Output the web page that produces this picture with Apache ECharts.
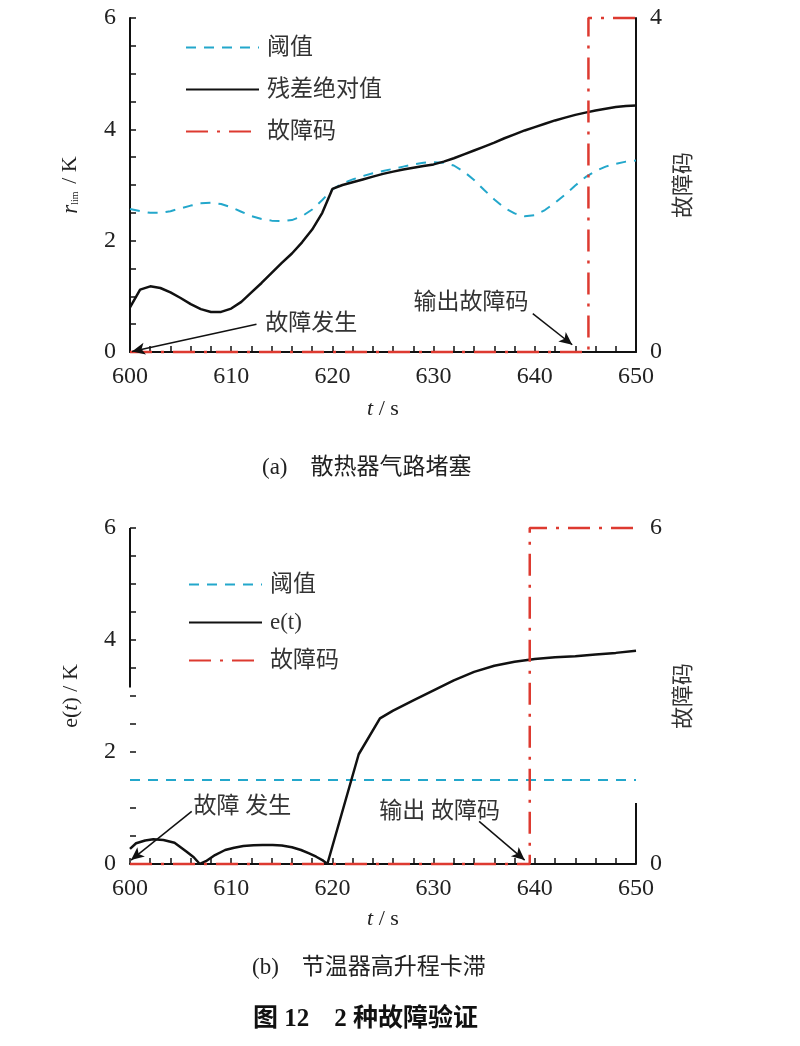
<!DOCTYPE html>
<html>
<head>
<meta charset="utf-8">
<title>图12 2种故障验证</title>
<script src="https://cdn.jsdelivr.net/npm/echarts@6/dist/echarts.min.js"></script>
<style>
html, body { margin: 0; padding: 0; background: #fff; }
#main { width: 800px; height: 1046px; }
</style>
</head>
<body>
<div id="main"></div>
<script>
// (a) 散热器气路堵塞
var timeA = [600,601,602,603,604,605,606,607,608,609,610,611,612,613,614,615,616,617,618,619,620,
             621,622,623,624,625,626,627,628,629,630,631,632,633,634,635,636,637,638,639,640,
             641,642,643,644,645,646,647,648,649,650];
var residualA = [0.80,1.12,1.18,1.15,1.07,0.97,0.86,0.77,0.72,0.72,0.78,0.90,1.07,1.24,1.42,1.60,1.77,1.97,2.20,2.50,2.93,
                 3.00,3.05,3.10,3.15,3.20,3.24,3.28,3.31,3.34,3.37,3.42,3.48,3.55,3.62,3.69,3.76,3.84,3.91,3.98,4.04,
                 4.10,4.16,4.21,4.26,4.30,4.34,4.37,4.40,4.42,4.43];
var thresholdA = [2.57,2.53,2.50,2.50,2.53,2.58,2.63,2.67,2.68,2.66,2.60,2.52,2.44,2.39,2.36,2.35,2.37,2.44,2.56,2.73,2.92,
                  3.03,3.10,3.16,3.21,3.25,3.29,3.33,3.37,3.40,3.41,3.40,3.35,3.24,3.09,2.91,2.74,2.59,2.49,2.44,2.46,
                  2.55,2.68,2.83,2.99,3.14,3.25,3.33,3.38,3.42,3.44];
var faultTimeA = [600, 645.3, 645.3, 650];
var faultA = [0, 0, 4, 4];
var labelsA = [{name: '故障发生', coord: [617.9, 0.5]}, {name: '输出故障码', coord: [633.7, 0.88]}];
var arrowsA = [[[612.5, 0.5], [600.2, 0.01]], [[639.8, 0.69], [643.7, 0.13]]];

// (b) 节温器高升程卡滞
var timeB = [600,600.6,601.5,602.3,603.3,604.4,605.6,606.3,606.9,
             607.5,608.4,609.4,610.3,611.2,612.2,613.1,614.1,615,616,
             616.9,617.7,618.4,619,619.5,
             622.6,624.7,626,628,630,632,634,636,638,640,
             642,644,646,648,650];
var errorB = [0.27,0.37,0.42,0.44,0.43,0.38,0.22,0.12,0,
              0.05,0.16,0.25,0.29,0.32,0.335,0.34,0.34,0.33,0.30,
              0.25,0.19,0.13,0.07,0,
              1.96,2.60,2.74,2.92,3.10,3.28,3.43,3.54,3.61,3.66,
              3.69,3.71,3.74,3.77,3.81];
var thresholdTimeB = [600, 650];
var thresholdB = [1.5, 1.5];
var faultTimeB = [600, 639.5, 639.5, 650];
var faultB = [0, 0, 6, 6];
var labelsB = [{name: '故障 发生', coord: [611.1, 1.02]}, {name: '输出 故障码', coord: [630.6, 0.93]}];
var arrowsB = [[[606.1, 0.94], [600.1, 0.07]], [[634.5, 0.76], [639.0, 0.07]]];
// 原图下图坐标轴线只画了一段
var stubLeftB = [[600, 3.15], [600, 6]];
var stubRightB = [[650, 0], [650, 1.09]];

var xTicks = {min: 600, max: 650, interval: 10};

function zip(xs, ys) {
    return xs.map(function (x, i) { return [x, ys[i]]; });
}

var FONT = "'Liberation Serif', 'Noto Sans CJK SC', serif";
var CYAN = '#23a7cb';
var RED = '#dd3a30';
var BLACK = '#111';
var dashCyan = [10, 8];
var dashRed = [22, 9, 3, 9];

var chart = echarts.init(document.getElementById('main'));

function xAxisOf(grid, gap) {
    return {
        gridIndex: grid, type: 'value', min: xTicks.min, max: xTicks.max, interval: xTicks.interval,
        name: '{i|t} / s', nameLocation: 'middle', nameGap: gap,
        nameTextStyle: {fontFamily: FONT, fontSize: 22, color: '#222', rich: {i: {fontStyle: 'italic', fontSize: 22, fontFamily: FONT}}},
        axisLine: {onZero: false, lineStyle: {color: BLACK, width: 2}},
        axisTick: {inside: true, length: 6, lineStyle: {color: BLACK, width: 1.5}},
        minorTick: {show: true, splitNumber: 5, length: 6, lineStyle: {color: BLACK, width: 1.5}},
        splitLine: {show: false},
        axisLabel: {fontFamily: FONT, fontSize: 24, color: '#222', margin: 13}
    };
}

function leftY(grid, name, rich, showLine) {
    return {
        gridIndex: grid, type: 'value', position: 'left', min: 0, max: 6, interval: 2,
        name: name, nameLocation: 'middle', nameGap: 48,
        nameTextStyle: {fontFamily: FONT, fontSize: 22, color: '#222', rich: rich},
        axisLine: {show: showLine, onZero: false, lineStyle: {color: BLACK, width: 2}},
        axisTick: {inside: true, length: 6, lineStyle: {color: BLACK, width: 1.5}},
        minorTick: {show: true, splitNumber: 4, length: 6, lineStyle: {color: BLACK, width: 1.5}},
        splitLine: {show: false},
        axisLabel: {fontFamily: FONT, fontSize: 24, color: '#222', margin: 14}
    };
}

function rightY(grid, max, showLine) {
    return {
        gridIndex: grid, type: 'value', position: 'right', min: 0, max: max, interval: max,
        name: '故障码', nameLocation: 'middle', nameGap: 24, nameRotate: 90,
        nameTextStyle: {fontFamily: FONT, fontSize: 22, color: '#333'},
        axisLine: {show: showLine, onZero: false, lineStyle: {color: BLACK, width: 2}},
        axisTick: {show: false},
        splitLine: {show: false},
        axisLabel: {fontFamily: FONT, fontSize: 24, color: '#222', margin: 14}
    };
}

function arrowLines(list) {
    return {
        silent: true, symbol: ['none', 'arrow'], symbolSize: [9, 13],
        label: {show: false},
        lineStyle: {color: BLACK, width: 1.5, type: 'solid'},
        data: list.map(function (a) { return [{coord: a[0]}, {coord: a[1]}]; })
    };
}

function textPoints(list) {
    return {
        silent: true, symbol: 'circle', symbolSize: 1,
        itemStyle: {color: 'rgba(0,0,0,0)'},
        label: {show: true, position: 'inside', formatter: '{b}', fontFamily: FONT, fontSize: 23, color: '#333'},
        data: list
    };
}

var legendBase = {
    orient: 'vertical', itemWidth: 73, itemHeight: 14,
    itemStyle: {color: 'rgba(0,0,0,0)', borderWidth: 0, opacity: 0},
    textStyle: {fontFamily: FONT, fontSize: 23, color: '#333', padding: [0, 0, 0, 3]}
};

var option = {
    animation: false,
    backgroundColor: '#fff',
    grid: [
        {left: 130, top: 18, width: 506, height: 334},
        {left: 130, top: 528, width: 506, height: 336}
    ],
    legend: [
        Object.assign({}, legendBase, {left: 180, top: 31, itemGap: 19, data: ['阈值', '残差绝对值', '故障码']}),
        Object.assign({}, legendBase, {left: 183, top: 568, itemGap: 15, data: ['阈值', 'e(t)', '故障码']})
    ],
    xAxis: [xAxisOf(0, 46), xAxisOf(1, 44)],
    yAxis: [
        leftY(0, '{i|r}{s|lim} / K', {i: {fontStyle: 'italic', fontSize: 23, fontFamily: FONT}, s: {fontSize: 10, fontFamily: FONT, padding: [10, 2, 0, 0]}}, true),
        rightY(0, 4, true),
        leftY(1, 'e({i|t}) / K', {i: {fontStyle: 'italic', fontSize: 22, fontFamily: FONT}}, false),
        rightY(1, 6, false)
    ],
    graphic: [
        {type: 'text', left: 262, top: 456, style: {text: '(a)    散热器气路堵塞', font: "23px 'Liberation Serif', 'Noto Sans CJK SC'", fill: '#222'}},
        {type: 'text', left: 252, top: 956, style: {text: '(b)    节温器高升程卡滞', font: "23px 'Liberation Serif', 'Noto Sans CJK SC'", fill: '#222'}},
        {type: 'text', left: 253, top: 1007, style: {text: '图 12    2 种故障验证', font: "bold 25px 'Liberation Serif', 'Noto Sans CJK SC'", fill: '#111'}}
    ],
    series: [
        {
            name: '阈值', type: 'line', xAxisIndex: 0, yAxisIndex: 0, symbol: 'none',
            data: zip(timeA, thresholdA),
            itemStyle: {color: CYAN}, lineStyle: {color: CYAN, width: 2, type: dashCyan}
        },
        {
            name: '残差绝对值', type: 'line', xAxisIndex: 0, yAxisIndex: 0, symbol: 'none',
            data: zip(timeA, residualA),
            itemStyle: {color: BLACK}, lineStyle: {color: BLACK, width: 2.5},
            markLine: arrowLines(arrowsA),
            markPoint: textPoints(labelsA)
        },
        {
            name: '故障码', type: 'line', xAxisIndex: 0, yAxisIndex: 1, symbol: 'none', clip: false,
            data: zip(faultTimeA, faultA),
            itemStyle: {color: RED}, lineStyle: {color: RED, width: 2.5, type: dashRed}
        },
        {
            name: '阈值', type: 'line', xAxisIndex: 1, yAxisIndex: 2, symbol: 'none',
            data: zip(thresholdTimeB, thresholdB),
            itemStyle: {color: CYAN}, lineStyle: {color: CYAN, width: 2, type: dashCyan}
        },
        {
            name: 'e(t)', type: 'line', xAxisIndex: 1, yAxisIndex: 2, symbol: 'none',
            data: zip(timeB, errorB),
            itemStyle: {color: BLACK}, lineStyle: {color: BLACK, width: 2.5},
            markLine: arrowLines(arrowsB),
            markPoint: textPoints(labelsB)
        },
        {
            name: '故障码', type: 'line', xAxisIndex: 1, yAxisIndex: 3, symbol: 'none', clip: false,
            data: zip(faultTimeB, faultB),
            itemStyle: {color: RED}, lineStyle: {color: RED, width: 2.5, type: dashRed}
        },
        {
            name: 'axisL', type: 'line', xAxisIndex: 1, yAxisIndex: 2, symbol: 'none', clip: false, silent: true,
            data: stubLeftB, lineStyle: {color: BLACK, width: 2}
        },
        {
            name: 'axisR', type: 'line', xAxisIndex: 1, yAxisIndex: 2, symbol: 'none', clip: false, silent: true,
            data: stubRightB, lineStyle: {color: BLACK, width: 2}
        }
    ]
};

chart.setOption(option);
</script>
</body>
</html>
